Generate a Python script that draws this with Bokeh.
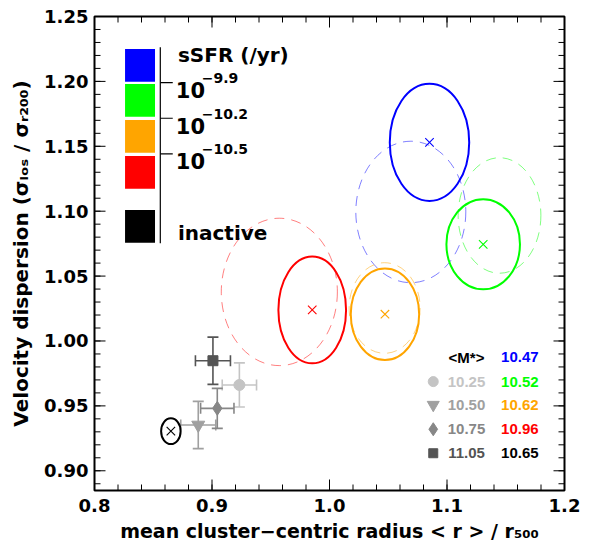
import numpy as np
from bokeh.plotting import figure
from bokeh.models import (ColumnDataSource, Label, FixedTicker,
                          PrintfTickFormatter, Whisker, TeeHead, Range1d)
from bokeh.embed import file_html
from bokeh.resources import INLINE

# ---------- data ----------
# sSFR bins (blue, green, orange, red) + inactive (black)
bin_colors = ["#0000ff", "#00ff00", "#ffa500", "#ff0000", "#000000"]
mean_r = [1.0851, 1.1308, 1.0472, 0.9853, 0.8650]
mean_sig = [1.1530, 1.0745, 1.0206, 1.0239, 0.9305]
r_err = [0.0338, 0.0313, 0.0291, 0.0288, 0.0083]
sig_err = [0.0451, 0.0347, 0.0353, 0.0411, 0.0099]
mean_mass = ["10.47", "10.52", "10.62", "10.96", "10.65"]

# dashed ellipses (second estimate, star-forming bins only)
alt_r = [1.0692, 1.1447, 1.0469, 0.9573]
alt_sig = [1.0994, 1.0967, 1.0254, 1.0378]
alt_r_err = [0.0468, 0.0352, 0.0302, 0.0494]
alt_sig_err = [0.0545, 0.0445, 0.0349, 0.0568]

# stellar-mass bins (grey points)
mass_labels = ["10.25", "10.50", "10.75", "11.05"]
mass_colors = ["#c4c4c4", "#a0a0a0", "#878787", "#545454"]
mass_markers = ["circle", "inverted_triangle", "diamond", "square"]
mass_sizes = [11, 13, 14, 10]
mass_r = [0.9233, 0.8883, 0.9045, 0.9008]
mass_sig = [0.9661, 0.9353, 0.9481, 0.9848]
mass_r_err = [0.0146, 0.0149, 0.0142, 0.0149]
mass_sig_err = [0.0170, 0.0182, 0.0154, 0.0182]

ssfr_ticks = ["\u22129.9", "\u221210.2", "\u221210.5"]

X0, X1 = 0.8, 1.2
Y0, Y1 = 0.8848, 1.25
FW, FH = 470, 474          # frame size in px

FONT = "DejaVu Sans"
TFONT = "Liberation Sans"

xmaj = [0.8, 0.9, 1.0, 1.1, 1.2]
ymaj = [0.9, 0.95, 1.0, 1.05, 1.1, 1.15, 1.2, 1.25]
xmin = np.round(np.arange(0.82, 1.2, 0.02), 3)
ymin = np.round(np.arange(0.89, 1.25, 0.01), 3)

p = figure(width=582, height=548,
           x_range=Range1d(X0, X1), y_range=Range1d(Y0, Y1),
           output_backend="svg", toolbar_location=None,
           min_border_left=94, min_border_right=18, min_border_top=16, min_border_bottom=58)
p.xgrid.visible = False
p.ygrid.visible = False
p.outline_line_color = "black"
p.outline_line_width = 2
p.background_fill_color = "white"

for ax, ticks, fmt in ((p.xaxis[0], xmaj, "%.1f"), (p.yaxis[0], ymaj, "%.2f")):
    ax.ticker = FixedTicker(ticks=ticks)
    ax.formatter = PrintfTickFormatter(format=fmt)
    ax.axis_line_color = "black"
    ax.major_tick_out = 0
    ax.minor_tick_out = 0
    ax.major_tick_in = 0
    ax.minor_tick_in = 0
    ax.major_label_text_font = FONT
    ax.major_label_text_font_style = "bold"
    ax.major_label_text_font_size = "18px"
    ax.major_label_text_color = "black"
    ax.axis_label_text_font = FONT
    ax.axis_label_text_font_style = "bold"
    ax.axis_label_text_color = "black"
p.xaxis[0].major_label_standoff = 8
p.yaxis[0].major_label_standoff = 6
p.yaxis[0].axis_label = "Velocity dispersion (\u03c3\u2097\u2092\u209b / \u03c3\u1d63\u2082\u2080\u2080)"
p.yaxis[0].axis_label_text_font_size = "20px"
p.yaxis[0].axis_label_standoff = 8
p.xaxis[0].axis_label = "mean cluster\u2212centric radius < r > / r\u2085\u2080\u2080"
p.xaxis[0].axis_label_text_font_size = "19px"
p.xaxis[0].axis_label_standoff = 5

# inward tick marks on all four sides of the frame
dx, dy = (X1 - X0) / FW, (Y1 - Y0) / FH
for vals, ln in ((xmaj, 11), (xmin, 6)):
    p.segment(x0=vals, y0=Y0, x1=vals, y1=Y0 + ln * dy, line_color="black", line_width=1)
    p.segment(x0=vals, y0=Y1, x1=vals, y1=Y1 - ln * dy, line_color="black", line_width=1)
for vals, ln in ((ymaj, 11), (ymin, 6)):
    p.segment(x0=X0, y0=vals, x1=X0 + ln * dx, y1=vals, line_color="black", line_width=1)
    p.segment(x0=X1, y0=vals, x1=X1 - ln * dx, y1=vals, line_color="black", line_width=1)

# ---------- ellipses ----------
alt_src = ColumnDataSource(dict(x=alt_r, y=alt_sig,
                                w=[2 * e for e in alt_r_err], h=[2 * e for e in alt_sig_err],
                                c=bin_colors[:4]))
p.ellipse(x="x", y="y", width="w", height="h", source=alt_src, fill_color=None,
          line_color="c", line_width=1, line_alpha=0.5, line_dash="10 7")

src = ColumnDataSource(dict(x=mean_r, y=mean_sig,
                            w=[2 * e for e in r_err], h=[2 * e for e in sig_err],
                            c=bin_colors))
p.ellipse(x="x", y="y", width="w", height="h", source=src, fill_color=None,
          line_color="c", line_width=2)
p.scatter(x="x", y="y", source=src, marker="x", size=12, line_color="c", line_width=1.1)

# ---------- stellar mass points with error bars ----------
for i in range(len(mass_labels)):
    c = mass_colors[i]
    es = ColumnDataSource(dict(
        x=[mass_r[i]], y=[mass_sig[i]],
        xl=[mass_r[i] - mass_r_err[i]], xu=[mass_r[i] + mass_r_err[i]],
        yl=[mass_sig[i] - mass_sig_err[i]], yu=[mass_sig[i] + mass_sig_err[i]]))
    for base, lo, up, dim in (("y", "xl", "xu", "width"), ("x", "yl", "yu", "height")):
        p.add_layout(Whisker(source=es, base=base, lower=lo, upper=up, dimension=dim,
                             line_color=c, line_width=1.6, level="underlay",
                             lower_head=TeeHead(size=11, line_color=c, line_width=1.6),
                             upper_head=TeeHead(size=11, line_color=c, line_width=1.6)))

msrc = ColumnDataSource(dict(x=mass_r, y=mass_sig, m=mass_markers, c=mass_colors, s=mass_sizes))
p.scatter(x="x", y="y", marker="m", size="s", source=msrc, fill_color="c", line_color="c")

# ---------- sSFR colour legend (top left) ----------
cb_left, cb_right = 0.826, 0.8515
cb_tops = [1.225, 1.198, 1.1703, 1.1425, 1.1009]
cb_h = 0.0252
p.quad(left=cb_left, right=cb_right, top=cb_tops,
       bottom=[t - cb_h for t in cb_tops], fill_color=bin_colors, line_color=None)
p.segment(x0=0.856, y0=1.0753, x1=0.856, y1=1.2263, line_color="black", line_width=1.2)
cb_tick_y = [1.199, 1.1716, 1.1441]
p.segment(x0=0.856, y0=cb_tick_y, x1=0.8666, y1=cb_tick_y, line_color="black", line_width=1.2)

p.add_layout(Label(x=0.871, y=1.2203, text="sSFR (/yr)", text_font=FONT, text_font_style="bold",
                   text_font_size="20px", text_color="black",
                   text_baseline="alphabetic", text_align="left"))
for lab, yb in zip(ssfr_ticks, [1.1934, 1.1659, 1.1387]):
    p.add_layout(Label(x=0.8692, y=yb, text="10", text_font=FONT, text_font_style="bold",
                       text_font_size="21px", text_color="black",
                       text_baseline="alphabetic", text_align="left"))
    p.add_layout(Label(x=0.8692, y=yb, x_offset=26, y_offset=12, text=lab, text_font=FONT,
                       text_font_style="bold", text_font_size="14px", text_color="black",
                       text_baseline="alphabetic", text_align="left"))
p.add_layout(Label(x=0.871, y=1.0834, text="inactive", text_font=FONT, text_font_style="bold",
                   text_font_size="20px", text_color="black",
                   text_baseline="alphabetic", text_align="left"))

# ---------- mass table (bottom right) ----------
row_y = [0.9874, 0.9687, 0.9508, 0.9320, 0.9135]
col_marker, col_mass, col_val = 1.0883, 1.1166, 1.162
p.add_layout(Label(x=col_mass, y=row_y[0], text="<M*>", text_font=TFONT, text_font_style="bold",
                   text_font_size="15px", text_color="black",
                   text_align="center", text_baseline="middle"))
for i, lab in enumerate(mass_labels):
    p.add_layout(Label(x=col_mass, y=row_y[i + 1], text=lab, text_font=TFONT,
                       text_font_style="bold", text_font_size="15px", text_color=mass_colors[i],
                       text_align="center", text_baseline="middle"))
tsrc = ColumnDataSource(dict(x=[col_marker] * 4, y=row_y[1:], m=mass_markers, c=mass_colors,
                             s=[10, 12, 13, 9]))
p.scatter(x="x", y="y", marker="m", size="s", source=tsrc, fill_color="c", line_color="c")
for i, v in enumerate(mean_mass):
    p.add_layout(Label(x=col_val, y=row_y[i], text=v, text_font=TFONT, text_font_style="bold",
                       text_font_size="15px", text_color=bin_colors[i],
                       text_align="center", text_baseline="middle"))

open("out.html", "w").write(file_html(p, INLINE))
